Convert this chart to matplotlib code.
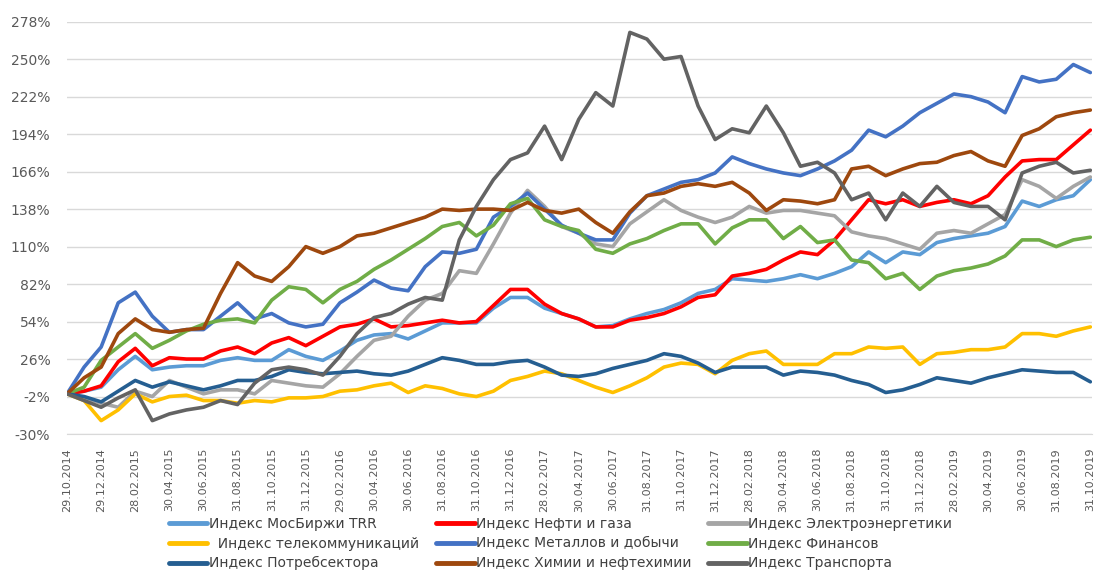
import matplotlib
matplotlib.use("Agg")
import matplotlib.pyplot as plt
from matplotlib.ticker import FixedLocator

# Monthly readings (month 0 = 29.10.2014 ... month 60 = 31.10.2019), % return
months = list(range(61))

tick_labels = [
    "29.10.2014", "29.12.2014", "28.02.2015", "30.04.2015", "30.06.2015",
    "31.08.2015", "31.10.2015", "31.12.2015", "29.02.2016", "30.04.2016",
    "30.06.2016", "31.08.2016", "31.10.2016", "31.12.2016", "28.02.2017",
    "30.04.2017", "30.06.2017", "31.08.2017", "31.10.2017", "31.12.2017",
    "28.02.2018", "30.04.2018", "30.06.2018", "31.08.2018", "31.10.2018",
    "31.12.2018", "28.02.2019", "30.04.2019", "30.06.2019", "31.08.2019",
    "31.10.2019",
]

moex_trr = [0, 2, 5, 18, 28, 18, 20, 21, 21, 25, 27, 25, 25, 33, 28, 25, 32, 40, 44, 45,
            41, 47, 53, 53, 53, 64, 72, 72, 64, 60, 56, 50, 51, 56, 60, 63, 68, 75, 78, 86,
            85, 84, 86, 89, 86, 90, 95, 106, 98, 106, 104, 113, 116, 118, 120, 125, 144, 140, 145, 148,
            160]
oil_gas = [0, 2, 6, 24, 34, 21, 27, 26, 26, 32, 35, 30, 38, 42, 36, 43, 50, 52, 56, 50,
           51, 53, 55, 53, 54, 66, 78, 78, 67, 60, 56, 50, 50, 55, 57, 60, 65, 72, 74, 88,
           90, 93, 100, 106, 104, 115, 130, 145, 142, 145, 140, 143, 145, 142, 148, 162, 174, 175, 175, 186,
           197]
electro = [0, -3, -7, -10, 2, -2, 10, 5, 0, 3, 3, 0, 10, 8, 6, 5, 15, 28, 40, 43,
           58, 70, 75, 92, 90, 112, 135, 152, 140, 125, 120, 112, 110, 127, 136, 145, 137, 132, 128, 132,
           140, 135, 137, 137, 135, 133, 121, 118, 116, 112, 108, 120, 122, 120, 127, 134, 160, 155, 146, 155,
           162]
telecom = [0, -5, -20, -12, 0, -6, -2, -1, -5, -5, -7, -5, -6, -3, -3, -2, 2, 3, 6, 8,
           1, 6, 4, 0, -2, 2, 10, 13, 17, 15, 10, 5, 1, 6, 12, 20, 23, 22, 15, 25,
           30, 32, 22, 22, 22, 30, 30, 35, 34, 35, 22, 30, 31, 33, 33, 35, 45, 45, 43, 47,
           50]
metals = [0, 20, 35, 68, 76, 58, 46, 48, 48, 58, 68, 56, 60, 53, 50, 52, 68, 76, 85, 79,
          77, 95, 106, 105, 108, 132, 140, 150, 138, 126, 120, 115, 115, 135, 148, 153, 158, 160, 165, 177,
          172, 168, 165, 163, 168, 174, 182, 197, 192, 200, 210, 217, 224, 222, 218, 210, 237, 233, 235, 246,
          240]
finance = [0, 5, 25, 35, 45, 34, 40, 47, 52, 55, 56, 53, 70, 80, 78, 68, 78, 84, 93, 100,
           108, 116, 125, 128, 118, 126, 142, 146, 130, 125, 122, 108, 105, 112, 116, 122, 127, 127, 112, 124,
           130, 130, 116, 125, 113, 115, 100, 98, 86, 90, 78, 88, 92, 94, 97, 103, 115, 115, 110, 115,
           117]
consumer = [0, -2, -6, 2, 10, 5, 9, 6, 3, 6, 10, 10, 13, 18, 16, 15, 16, 17, 15, 14,
            17, 22, 27, 25, 22, 22, 24, 25, 20, 14, 13, 15, 19, 22, 25, 30, 28, 23, 16, 20,
            20, 20, 14, 17, 16, 14, 10, 7, 1, 3, 7, 12, 10, 8, 12, 15, 18, 17, 16, 16,
            9]
chemistry = [0, 12, 20, 45, 56, 48, 46, 48, 49, 75, 98, 88, 84, 95, 110, 105, 110, 118, 120, 124,
             128, 132, 138, 137, 138, 138, 137, 143, 137, 135, 138, 128, 120, 136, 148, 150, 155, 157, 155, 158,
             150, 137, 145, 144, 142, 145, 168, 170, 163, 168, 172, 173, 178, 181, 174, 170, 193, 198, 207, 210,
             212]
transport = [0, -5, -10, -3, 3, -20, -15, -12, -10, -5, -8, 8, 18, 20, 18, 14, 28, 45, 57, 60,
             67, 72, 70, 115, 140, 160, 175, 180, 200, 175, 205, 225, 215, 270, 265, 250, 252, 215, 190, 198,
             195, 215, 195, 170, 173, 165, 145, 150, 130, 150, 140, 155, 143, 140, 140, 130, 165, 170, 173, 165,
             167]

series = [
    ("Индекс МосБиржи TRR", moex_trr, "#5B9BD5"),
    ("Индекс Нефти и газа", oil_gas, "#FF0000"),
    ("Индекс Электроэнергетики", electro, "#A5A5A5"),
    ("  Индекс телекоммуникаций", telecom, "#FFC000"),
    ("Индекс Металлов и добычи", metals, "#4472C4"),
    ("Индекс Финансов", finance, "#70AD47"),
    ("Индекс Потребсектора", consumer, "#255E91"),
    ("Индекс Химии и нефтехимии", chemistry, "#9E480E"),
    ("Индекс Транспорта", transport, "#636363"),
]

y_ticks = list(range(-30, 279, 28))

fig = plt.figure(figsize=(10.99, 5.8), dpi=100)
ax = fig.add_axes([0.061, 0.2517, 0.9327, 0.7109])

handles = []
for name, vals, color in series:
    (ln,) = ax.plot(months, vals, color=color, linewidth=2.6, label=name,
                    solid_joinstyle="round", solid_capstyle="round")
    handles.append(ln)

ax.set_xlim(0, 60.1)
ax.set_ylim(-30, 278)
ax.yaxis.set_major_locator(FixedLocator(y_ticks))
ax.set_yticklabels([f"{v}%" for v in y_ticks])
ax.xaxis.set_major_locator(FixedLocator(list(range(0, 61, 2))))
ax.set_xticklabels(tick_labels, rotation=90)

ax.grid(axis="y", color="#D9D9D9", linewidth=1.0)
ax.set_axisbelow(True)
for side in ("top", "right", "left"):
    ax.spines[side].set_visible(False)
ax.spines["bottom"].set_color("#D9D9D9")
ax.tick_params(axis="both", length=0, colors="#595959")
ax.tick_params(axis="y", labelsize=10, pad=12)
ax.tick_params(axis="x", labelsize=8, pad=10)

# Legend laid out row by row like the original (matplotlib fills by column)
order = [0, 3, 6, 1, 4, 7, 2, 5, 8]
leg = fig.legend(
    [handles[i] for i in order],
    [series[i][0] for i in order],
    loc="upper center",
    bbox_to_anchor=(0.51, 1 - 507 / 580),
    ncol=3,
    frameon=False,
    fontsize=10,
    handlelength=2.8,
    handletextpad=0.1,
    columnspacing=1.2,
    labelspacing=0.42,
    borderpad=0.2,
)
for txt in leg.get_texts():
    txt.set_color("#404040")
for lh in leg.get_lines():
    lh.set_linewidth(3.5)

fig.savefig("out.png", dpi=100)
